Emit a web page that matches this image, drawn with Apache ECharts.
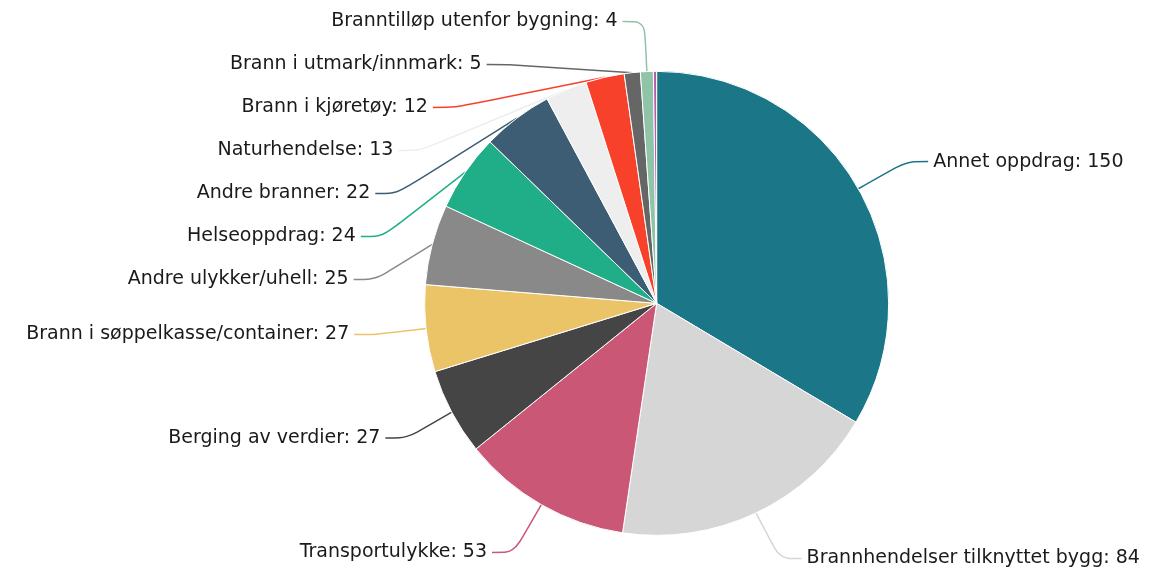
<!DOCTYPE html>
<html>
<head>
<meta charset="utf-8">
<script src="https://cdn.jsdelivr.net/npm/echarts@6/dist/echarts.min.js"></script>
<style>
  html, body { margin: 0; padding: 0; background: #fff; }
  #chartPie { width: 1152px; height: 580px; }
</style>
</head>
<body>
<div id="chartPie"></div>
<script>
  // kategorier og verdier, lest av bildet
  var categories = [
    'Annet oppdrag',
    'Brannhendelser tilknyttet bygg',
    'Transportulykke',
    'Berging av verdier',
    'Brann i søppelkasse/container',
    'Andre ulykker/uhell',
    'Helseoppdrag',
    'Andre branner',
    'Naturhendelse',
    'Brann i kjøretøy',
    'Brann i utmark/innmark',
    'Branntilløp utenfor bygning',
    'Øvrige'
  ];
  var values = [150, 84, 53, 27, 27, 25, 24, 22, 13, 12, 5, 4, 1];
  var colors = ['#1b7688', '#d6d6d6', '#c95775', '#454545', '#ecc468', '#898989',
                '#1fae88', '#3d5d74', '#eeeeee', '#f8412a', '#666666', '#8fc4a8', '#b65ea8'];
  var hiddenLabels = ['Øvrige'];

  var chart = echarts.init(document.getElementById('chartPie'));
  var data = categories.map(function (name, i) {
    var item = { name: name, value: values[i] };
    if (hiddenLabels.indexOf(name) >= 0) {
      item.label = { show: false };
      item.labelLine = { show: false };
    }
    return item;
  });

  chart.setOption({
    animation: false,
    color: colors,
    series: [
      {
        type: 'pie',
        center: ['57%', '52.3%'],
        radius: '80%',
        startAngle: 90,
        clockwise: true,
        data: data,
        itemStyle: { borderColor: '#fff', borderWidth: 1 },
        label: {
          formatter: '{b}: {c}',
          color: '#1a1a1a',
          fontFamily: 'DejaVu Sans',
          fontSize: 19,
          lineHeight: 41,
          overflow: 'none'
        },
        labelLine: {
          smooth: 0.3,
          length: 55,
          length2: 22,
          lineStyle: { width: 1.5 }
        }
      }
    ]
  });
</script>
</body>
</html>
